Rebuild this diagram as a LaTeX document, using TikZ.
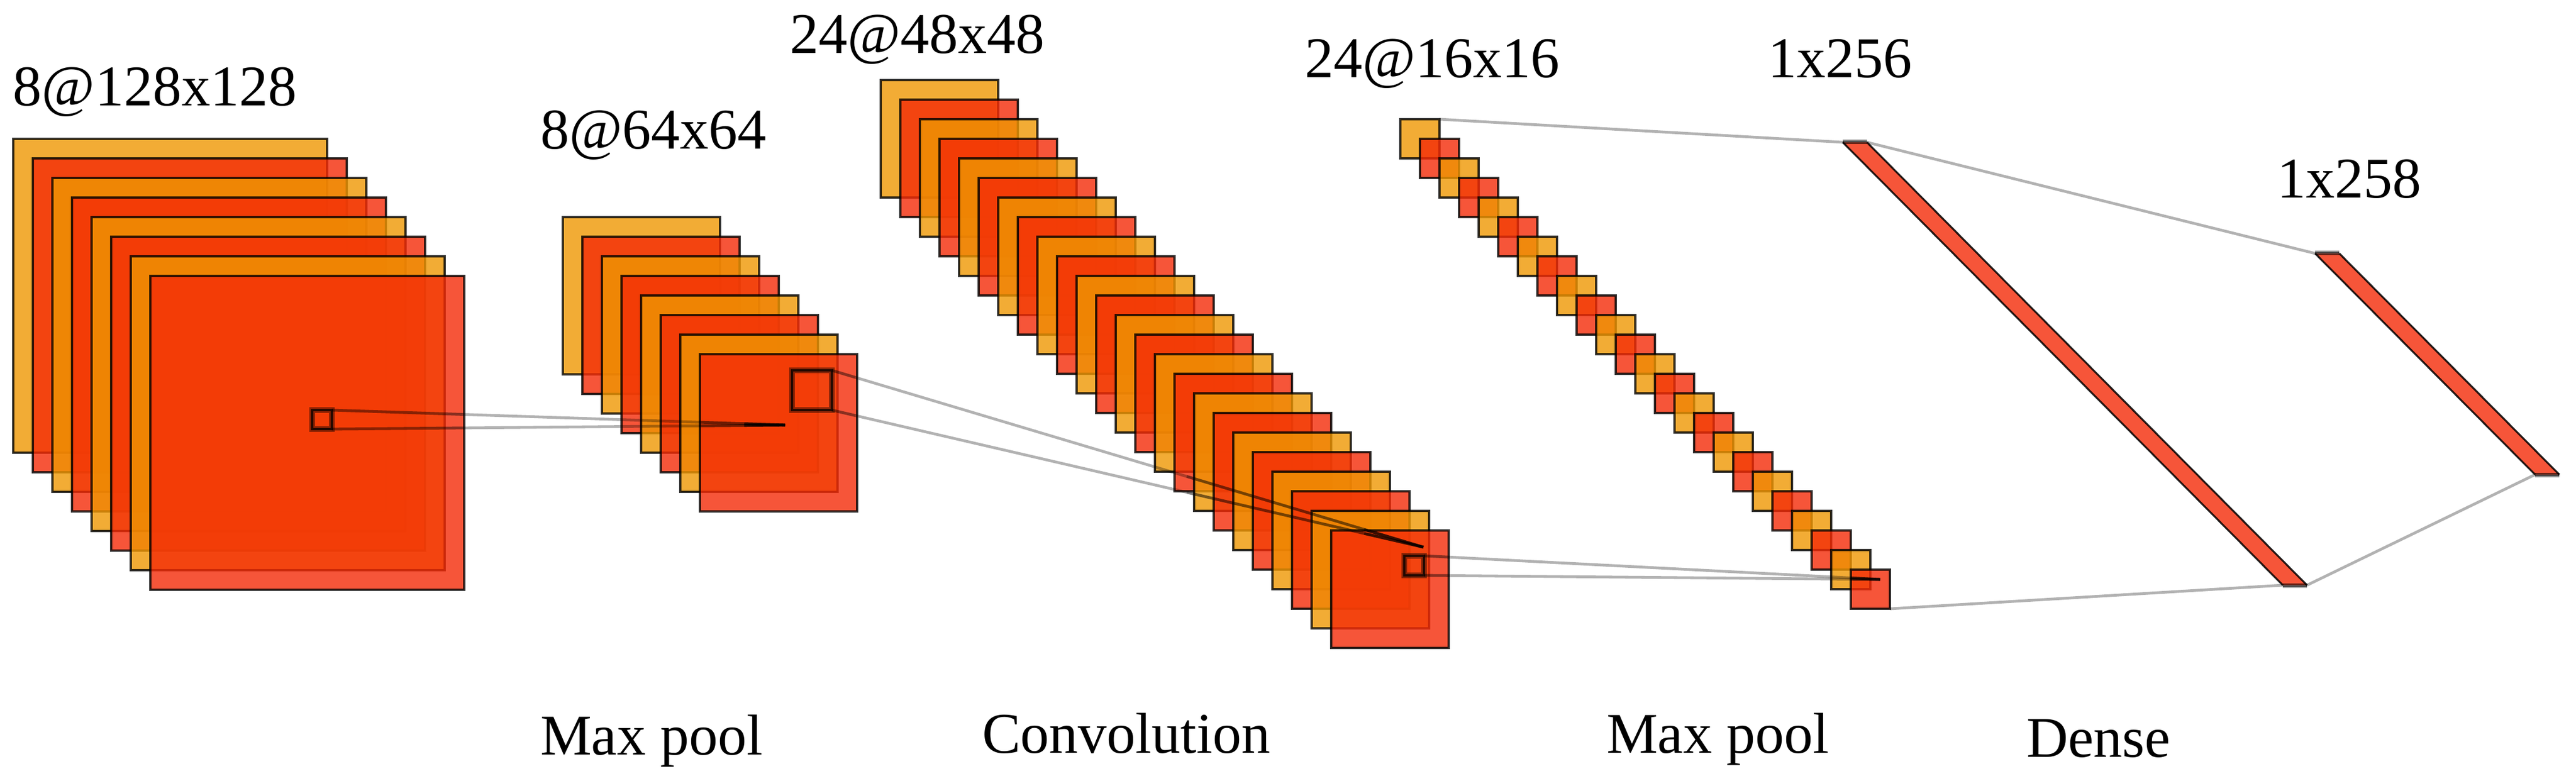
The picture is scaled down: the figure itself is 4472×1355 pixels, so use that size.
\documentclass[tikz,border=0pt]{standalone}
\usepackage{fontspec}
\setmainfont{Liberation Serif}
\usetikzlibrary{calc}
\definecolor{layerorange}{RGB}{239,151,3}
\definecolor{layerred}{RGB}{244,42,7}
\tikzset{
  x=0.5pt,y=-0.5pt,
  layerbox/.style={draw=black,line width=2pt,opacity=.8,inner sep=0pt,outer sep=0pt,anchor=north west,minimum width=#1,minimum height=#1},
  probe/.style={draw=black,line width=2pt,opacity=.75,inner sep=0pt,outer sep=0pt,anchor=north west,
    preaction={draw=black,line width=5pt,opacity=.42}},
  tie/.style={draw=black,line width=2.4pt,opacity=.3},
  tiedark/.style={draw=black,line width=2.4pt,opacity=#1},
  link/.style={draw=black,line width=2.4pt,opacity=.3},
  denseside/.style={draw=black,line width=1.6pt,opacity=.85},
  denseend/.style={draw=black,line width=3pt,opacity=.6},
  densefill/.style={fill=layerred,opacity=.8},
  lab/.style={anchor=base west,inner sep=0pt,outer sep=0pt,font=\fontsize{50}{51}\selectfont}
}
% name, count, x, y, size (in picture px)
\newcommand{\layerstack}[5]{%
  \foreach \i in {1,...,#2}{%
    \pgfmathtruncatemacro{\px}{#3+(\i-1)*34}%
    \pgfmathtruncatemacro{\py}{#4+(\i-1)*34}%
    \pgfmathtruncatemacro{\odd}{mod(\i,2)}%
    \ifnum\odd=1 \def\lc{layerorange}\else \def\lc{layerred}\fi
    \node[layerbox=#5*0.5pt,fill=\lc] (#1-\i) at (\px,\py) {};
  }%
}
\begin{document}
\begin{tikzpicture}
\useasboundingbox (0,0) rectangle (4472,1355);

\layerstack{sa}{8}{23}{241}{545}
\layerstack{sb}{8}{977}{377}{273}
\layerstack{sc}{24}{1529}{139}{204}
\layerstack{sd}{24}{2431}{207}{68}

% probes
\node[probe,minimum width=17pt,minimum height=16.5pt] (pa) at (542,712) {};
\node[probe,minimum width=34.5pt,minimum height=34.5pt] (pb) at (1375,643) {};
\node[probe,minimum width=17pt,minimum height=17pt] (pc) at (2438,965) {};

% apexes
\coordinate (apb) at (1363,738);
\coordinate (apc) at (2471,950);
\coordinate (apd) at (3264,1006);

% dense layers
\coordinate (da) at (3199,247);
\coordinate (db) at (3241,247);
\coordinate (dc) at (4005,1016);
\coordinate (dd) at (3963,1016);
\coordinate (ea) at (4019,440);
\coordinate (eb) at (4061,440);
\coordinate (ec) at (4443,824);
\coordinate (ed) at (4401,824);

% ties between probes and apexes
\foreach \c/\a/\e in {pa.north east/apb/.29,pa.south east/apb/.29,pb.north east/apc/.04,pb.south east/apc/.04,pc.north east/apd/.055,pc.south east/apd/.055}{
  \draw[tie] (\c) -- (\a);
  \draw[tiedark=.2] (\c) -- ($(\c)!\e!(\a)$);
}
\foreach \c in {pa.north east,pa.south east}{
  \draw[tiedark=.35] ($(\c)!.81!(apb)$) -- (apb);
  \draw[tiedark=.6] ($(\c)!.91!(apb)$) -- (apb);
}
\foreach \c in {pb.north east,pb.south east}{
  \draw[tiedark=.3] ($(\c)!.6!(apc)$) -- (apc);
  \draw[tiedark=.5] ($(\c)!.9!(apc)$) -- (apc);
}
\foreach \c in {pc.north east,pc.south east}{
  \draw[tiedark=.6] ($(\c)!.935!(apd)$) -- (apd);
}

% links to dense layers
\draw[link] (sd-1.north east) -- (da);
\draw[link] (sd-24.south east) -- (dd);
\draw[link] (db) -- (ea);
\draw[link] (dc) -- (ed);
\draw[link] ([yshift=1.5pt]da) -- ([yshift=1.5pt]db);
\draw[link] ([yshift=-1.5pt]dd) -- ([yshift=-1.5pt]dc);
\draw[link] ([yshift=1.5pt]ea) -- ([yshift=1.5pt]eb);
\draw[link] ([yshift=-1.5pt]ed) -- ([yshift=-1.5pt]ec);

\fill[densefill] (da) -- (db) -- (dc) -- (dd) -- cycle;
\draw[denseside] (da) -- (dd) (db) -- (dc);
\draw[denseend] (da) -- (db) (dd) -- (dc);
\fill[densefill] (ea) -- (eb) -- (ec) -- (ed) -- cycle;
\draw[denseside] (ea) -- (ed) (eb) -- (ec);
\draw[denseend] (ea) -- (eb) (ed) -- (ec);

% labels
\node[lab] (l1) at (23,183) {8@128x128};
\node[lab] (l2) at (938,258) {8@64x64};
\node[lab] (l3) at (1371,92) {24@48x48};
\node[lab] (l4) at (2265,134) {24@16x16};
\node[lab] (l5) at (3069,134) {1x256};
\node[lab] (l6) at (3953,343) {1x258};
\node[lab] (l7) at (938,1310) {Max pool};
\node[lab] (l8) at (1705,1307) {Convolution};
\node[lab] (l9) at (2789,1307) {Max pool};
\node[lab] (l10) at (3518,1314) {Dense};
\end{tikzpicture}
\end{document}
